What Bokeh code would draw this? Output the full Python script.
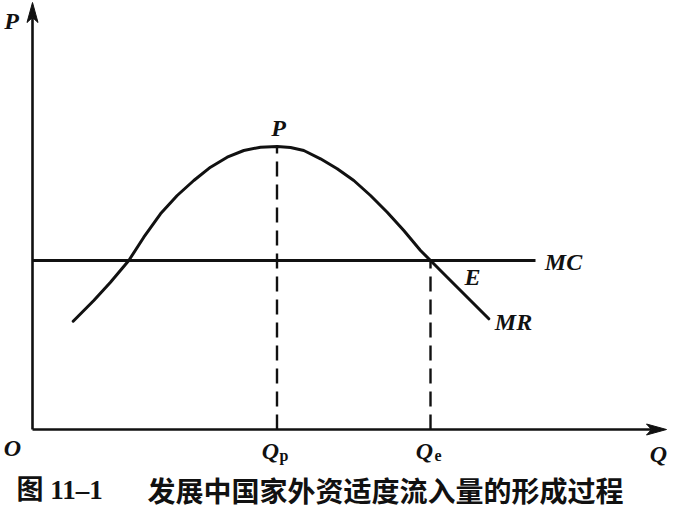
from bokeh.plotting import figure
from bokeh.models import Range1d
from bokeh.core.properties import value
from bokeh.embed import file_html
from bokeh.resources import INLINE

# ---- data (Q horizontal, P vertical) ----
mr_q = [4.07, 6.13, 7.80, 9.63, 11.13, 12.80, 14.47, 16.13, 17.80, 19.47, 21.13,
        22.80, 24.47, 25.80, 27.13, 28.80, 30.47, 32.13, 33.80, 35.47, 37.13,
        38.80, 39.80, 41.47, 43.80, 45.63]
mr_p = [10.83, 12.90, 14.73, 16.90, 19.23, 21.57, 23.40, 24.90, 26.23, 27.23, 27.90,
        28.23, 28.30, 28.20, 27.90, 27.07, 26.07, 24.90, 23.40, 21.73, 19.90,
        17.90, 16.90, 15.23, 12.90, 11.07]
mc_level = 16.9
mc_end = 50.3
q_p = 24.45
p_peak = 28.3
q_e = 39.8
q_axis_end = 63.4
p_axis_end = 42.7

ink = "#111111"
serif = value("Liberation Serif")

p = figure(width=667, height=513, x_range=Range1d(-3.2, 63.5), y_range=Range1d(-8.4, 42.9),
           x_axis_type=None, y_axis_type=None, output_backend="svg",
           toolbar_location=None, min_border=0)
p.grid.visible = False
p.outline_line_color = None
p.background_fill_color = "white"
p.border_fill_color = "white"

# axes
p.line([0, 0], [0, p_axis_end - 1.5], line_color=ink, line_width=2.6)
p.line([0, q_axis_end - 1.5], [0, 0], line_color=ink, line_width=2.6)
hl, hw, notch = 2.0, 0.55, 1.5
p.patch([0, -hw, 0, hw], [p_axis_end, p_axis_end - hl, p_axis_end - notch, p_axis_end - hl],
        fill_color=ink, line_color=ink, line_width=1)
p.patch([q_axis_end, q_axis_end - hl, q_axis_end - notch, q_axis_end - hl], [0, hw, 0, -hw],
        fill_color=ink, line_color=ink, line_width=1)

# MC line
p.line([0, mc_end], [mc_level, mc_level], line_color=ink, line_width=2.8)

# dashed verticals
p.line([q_p, q_p], [0, p_peak], line_color=ink, line_width=2.4, line_dash="15 8")
p.line([q_e, q_e], [0, mc_level], line_color=ink, line_width=2.4, line_dash="15 8")

# MR curve
p.line(mr_q, mr_p, line_color=ink, line_width=3, line_cap="round", line_join="round")

# italic labels
p.text(x=[-2.1, -2.0, q_p + 0.15, 53.1, 44.0, 48.1, 62.6, q_p - 0.65, q_e - 0.6],
       y=[40.9, -1.8, p_peak + 1.9, 16.8, 15.3, 10.8, -2.4, -2.1, -2.1],
       text=["P", "O", "P", "MC", "E", "MR", "Q", "Q", "Q"],
       text_font=serif, text_font_style="bold italic", text_font_size="24px",
       text_align="center", text_baseline="middle", text_color=ink)
# subscripts
p.text(x=[q_p + 0.7, q_e + 0.75], y=[-2.6, -2.6], text=["p", "e"],
       text_font=serif, text_font_style="bold", text_font_size="16px",
       text_align="center", text_baseline="middle", text_color=ink)

# caption
p.text(x=[-1.6], y=[-6.0], text=["图 11–1"],
       text_font=value("Liberation Serif, Noto Sans CJK SC"), text_font_style="bold",
       text_font_size="27px", text_align="left", text_baseline="middle", text_color=ink)
p.text(x=[11.5], y=[-6.0], text=["发展中国家外资适度流入量的形成过程"],
       text_font=value("Noto Sans CJK SC"), text_font_style="bold",
       text_font_size="28px", text_align="left", text_baseline="middle", text_color=ink)

open("out.html", "w").write(file_html(p, INLINE))
